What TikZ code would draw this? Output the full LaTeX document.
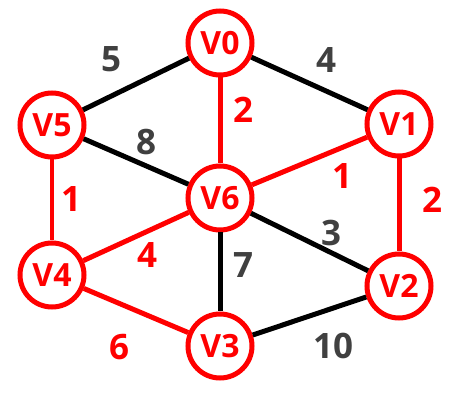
\documentclass[tikz,border=0pt]{standalone}
\usepackage{fontspec}
\setmainfont{Open Sans}
\usepackage{tikz}
\usetikzlibrary{positioning}
\definecolor{vertexred}{RGB}{255,0,0}
\definecolor{weightgray}{RGB}{64,64,64}
\tikzset{
  vertex/.style={circle,draw=vertexred,fill=white,line width=5pt,minimum size=64pt,
    inner sep=0pt,text=vertexred,font=\fontsize{32}{32}\selectfont\bfseries},
  treeedge/.style={draw=vertexred,line width=5pt},
  plainedge/.style={draw=black,line width=5pt},
  treeweight/.style={text=vertexred,font=\fontsize{35}{35}\selectfont\bfseries},
  plainweight/.style={text=weightgray,font=\fontsize{35}{35}\selectfont\bfseries}
}

\begin{document}
\begin{tikzpicture}[x=1pt,y=-1pt]
  \useasboundingbox (0,0) rectangle (467,417);
  % vertices
  \node[vertex] (v0) at (220,43) {V0};
  \node[vertex] (v1) at (399,124) {V1};
  \node[vertex] (v2) at (399,286) {V2};
  \node[vertex] (v3) at (220,346) {V3};
  \node[vertex] (v4) at (52,275) {V4};
  \node[vertex] (v5) at (52,125) {V5};
  \node[vertex] (v6) at (220,198) {V6};
  % edges
  \draw[plainedge] (v0) -- (v5);
  \draw[plainedge] (v0) -- (v1);
  \draw[plainedge] (v5) -- (v6);
  \draw[plainedge] (v6) -- (v2);
  \draw[plainedge] (v6) -- (v3);
  \draw[plainedge] (v3) -- (v2);
  \draw[treeedge] (v0) -- (v6);
  \draw[treeedge] (v6) -- (v1);
  \draw[treeedge] (v1) -- (v2);
  \draw[treeedge,line width=4pt] (v5) -- (v4);
  \draw[treeedge] (v4) -- (v6);
  \draw[treeedge] (v4) -- (v3);
  % weights
  \node[plainweight] (w05) at (111,59) {5};
  \node[plainweight] (w01) at (326,60) {4};
  \node[treeweight] (w06) at (243,110) {2};
  \node[plainweight] (w56) at (146,142) {8};
  \node[treeweight] (w61) at (342,176) {1};
  \node[treeweight] (w12) at (432,200) {2};
  \node[treeweight] (w54) at (71,199) {1};
  \node[treeweight] (w46) at (147,255) {4};
  \node[plainweight] (w62) at (331,233) {3};
  \node[plainweight] (w63) at (243,265) {7};
  \node[treeweight] (w43) at (119,347) {6};
  \node[plainweight] (w32) at (333,346) {10};
\end{tikzpicture}
\end{document}
